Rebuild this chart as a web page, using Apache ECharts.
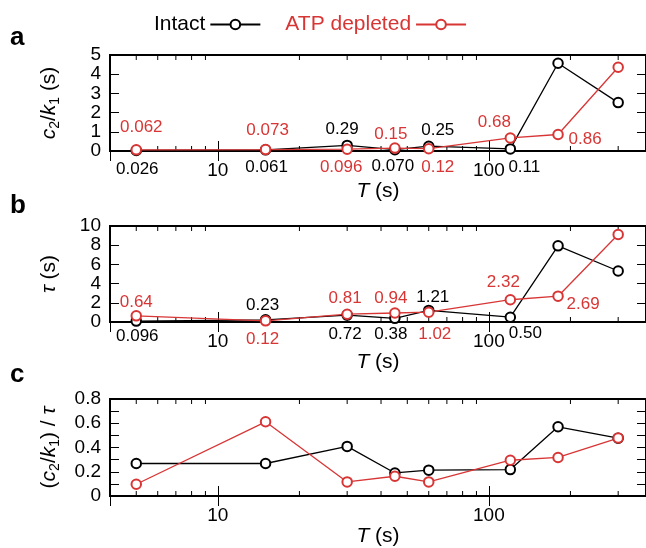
<!DOCTYPE html>
<html><head><meta charset="utf-8">
<script src="https://cdn.jsdelivr.net/npm/echarts@6/dist/echarts.min.js"></script>
<style>html,body{margin:0;padding:0;background:#fff}#c{width:646px;height:548px}</style>
</head><body><div id="c"></div>
<script>
const T = [5, 15, 30, 45, 60, 120, 180, 300];
const intactC2k1 = [0.026, 0.061, 0.29, 0.070, 0.25, 0.11, 4.57, 2.52];
const atpC2k1 = [0.062, 0.073, 0.096, 0.15, 0.12, 0.68, 0.86, 4.36];
const intactTau = [0.096, 0.23, 0.72, 0.38, 1.21, 0.50, 7.93, 5.31];
const atpTau = [0.64, 0.12, 0.81, 0.94, 1.02, 2.32, 2.69, 9.11];
const intactRatio = [0.268, 0.268, 0.409, 0.19, 0.213, 0.218, 0.571, 0.477];
const atpRatio = [0.097, 0.612, 0.116, 0.163, 0.116, 0.295, 0.318, 0.478];
const minorT = [5, 6, 7, 8, 9, 20, 30, 40, 50, 60, 70, 80, 90, 200, 300];

// label offsets (label centre relative to point), null = no label
const offAIntact = [[1,19],[1,17],[-5,-16],[-2,17],[9,-16],[14,18],null,null];
const offAAtp = [[5,-22],[2,-19],[-6,18],[-4,-14],[9,19],[-16,-16],[27,4.5],null];
const offBIntact = [[1,15.5],[-3,-14],[-2,19],[-4,16],[4,-13],[15,16],null,null];
const offBAtp = [[0,-14],[-3,18],[-2,-16],[-4,-15],[6,22],[-7,-17],[25,8],null];

const BLACK = '#000000';
const RED = '#d83535';
const FONT = 'Liberation Sans, Arial, sans-serif';

function fmt(v){ return v < 1 ? v.toPrecision(2) : v.toFixed(2); }

function seriesData(vals, offs){
  return T.map((t,i)=>{
    const o = offs ? offs[i] : null;
    return { value:[t, vals[i]], label: o ? { show:true, position:'inside', offset:o, formatter: fmt(vals[i]) } : { show:false } };
  });
}

function lineSeries(name, color, vals, offs, g){
  return {
    name, type:'line', xAxisIndex:2*g, yAxisIndex:2*g,
    data: seriesData(vals, offs),
    symbol:'emptyCircle', symbolSize:9.5,
    lineStyle:{ color, width:1.3 },
    itemStyle:{ color, borderColor:color, borderWidth:1.6 },
    label:{ color, fontSize:17, fontFamily:FONT },
    emphasis:{ disabled:true }, animation:false, clip:false, z:3
  };
}

function minorSeries(g, ymin, ymax){
  return {
    type:'custom', xAxisIndex:2*g, yAxisIndex:2*g, silent:true, animation:false, clip:false, z:2,
    data: minorT.map(t=>[t, ymin]),
    renderItem(params, api){
      const b = api.coord([api.value(0), ymin]);
      const t = api.coord([api.value(0), ymax]);
      return { type:'group', children:[
        { type:'line', shape:{x1:b[0], y1:b[1], x2:b[0], y2:b[1]-5}, style:{stroke:'#000', lineWidth:1} },
        { type:'line', shape:{x1:t[0], y1:t[1], x2:t[0], y2:t[1]+5}, style:{stroke:'#000', lineWidth:1} }
      ]};
    }
  };
}

const grids = [
  { left:110, top:55, width:538, height:96 },
  { left:110, top:226, width:538, height:96 },
  { left:110, top:399, width:538, height:97 }
].map(g=>Object.assign(g, { show:true, borderColor:'#000', borderWidth:2, backgroundColor:'transparent' }));

const richBase = {
  n:{ fontSize:21, fontFamily:FONT, color:'#000', lineHeight:26 },
  i:{ fontSize:21, fontFamily:FONT, fontStyle:'italic', color:'#000', lineHeight:26 },
  sub:{ fontSize:14, fontFamily:FONT, color:'#000', lineHeight:14, verticalAlign:'bottom' }
};

const xAxes = [], yAxes = [];
const yCfg = [
  { min:0, max:5, interval:1, name:'{i|c}{sub|2}{n|/}{i|k}{sub|1}{n| (s)}', minor:false },
  { min:0, max:10, interval:2, name:'{i|τ}{n| (s)}', minor:false },
  { min:0, max:0.8, interval:0.2, name:'{n|(}{i|c}{sub|2}{n|/}{i|k}{sub|1}{n|) / }{i|τ}', minor:true }
];
for (let g=0; g<3; g++){
  xAxes.push({
    type:'log', logBase:10, gridIndex:g, min:4, max:380, position:'bottom',
    axisLine:{show:false}, splitLine:{show:false},
    axisTick:{ show:true, inside:true, length:10, lineStyle:{color:'#000', width:1} },
    axisLabel:{ color:'#000', fontSize:19, fontFamily:FONT, margin:10, showMinLabel:false, showMaxLabel:false },
    name:'{i|T}{n| (s)}', nameLocation:'middle', nameGap:24,
    nameTextStyle:{ rich:richBase }
  });
  xAxes.push({
    type:'log', logBase:10, gridIndex:g, min:4, max:380, position:'top',
    axisLine:{show:false}, splitLine:{show:false},
    axisTick:{ show:true, inside:true, length:10, lineStyle:{color:'#000', width:1} },
    axisLabel:{ show:false }
  });
  const c = yCfg[g];
  yAxes.push({
    type:'value', gridIndex:g, min:c.min, max:c.max, interval:c.interval, position:'left',
    axisLine:{show:false}, splitLine:{show:false},
    axisTick:{ show:true, inside:true, length:9, lineStyle:{color:'#000', width:1} },
    minorTick:{ show:c.minor, splitNumber:2, length:9, lineStyle:{color:'#000', width:1} },
    axisLabel:{ color:'#000', fontSize:19, fontFamily:FONT, margin:9, lineHeight:19 },
    name:c.name, nameLocation:'middle', nameRotate:90, nameGap:48,
    nameTextStyle:{ rich:richBase }
  });
  yAxes.push({
    type:'value', gridIndex:g, min:c.min, max:c.max, interval:c.interval, position:'right',
    axisLine:{show:false}, splitLine:{show:false},
    axisTick:{ show:true, inside:true, length:9, lineStyle:{color:'#000', width:1} },
    minorTick:{ show:c.minor, splitNumber:2, length:9, lineStyle:{color:'#000', width:1} },
    axisLabel:{ show:false }
  });
}

const series = [
  minorSeries(0, 0, 5), minorSeries(1, 0, 10), minorSeries(2, 0, 0.8),
  lineSeries('Intact', BLACK, intactC2k1, offAIntact, 0),
  lineSeries('ATP depleted', RED, atpC2k1, offAAtp, 0),
  lineSeries('Intact', BLACK, intactTau, offBIntact, 1),
  lineSeries('ATP depleted', RED, atpTau, offBAtp, 1),
  lineSeries('Intact', BLACK, intactRatio, null, 2),
  lineSeries('ATP depleted', RED, atpRatio, null, 2)
];

const chart = echarts.init(document.getElementById('c'), null, { renderer:'canvas' });
chart.setOption({
  backgroundColor:'#fff',
  animation:false,
  legend:{
    left:149, top:9, align:'right', itemWidth:50, itemHeight:12, itemGap:24,
    selectedMode:false,
    data:[
      { name:'Intact', textStyle:{ color:BLACK } },
      { name:'ATP depleted', textStyle:{ color:RED } }
    ],
    textStyle:{ fontSize:21, fontFamily:FONT }
  },
  grid: grids,
  xAxis: xAxes,
  yAxis: yAxes,
  series,
  graphic:[
    { type:'text', left:10, top:25, style:{ text:'a', fontSize:26, fontWeight:'bold', fontFamily:FONT, fill:'#000' } },
    { type:'text', left:10, top:193, style:{ text:'b', fontSize:26, fontWeight:'bold', fontFamily:FONT, fill:'#000' } },
    { type:'text', left:10, top:362, style:{ text:'c', fontSize:26, fontWeight:'bold', fontFamily:FONT, fill:'#000' } }
  ]
});
</script></body></html>
